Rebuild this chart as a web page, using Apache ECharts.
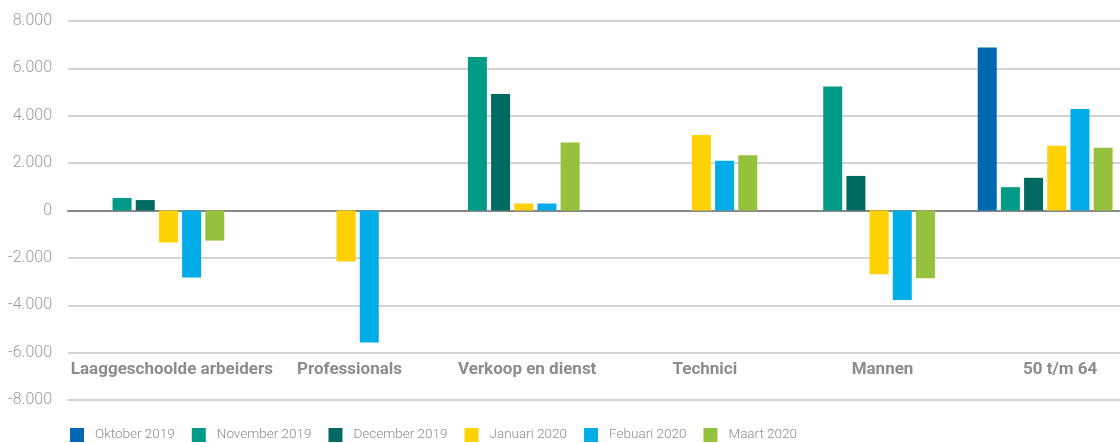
<!DOCTYPE html>
<html>
<head>
<meta charset="utf-8">
<script src="https://cdn.jsdelivr.net/npm/echarts@6/dist/echarts.min.js"></script>
<style>
  html, body { margin: 0; padding: 0; background: #fff; overflow: hidden; }
  #main { width: 1134px; height: 443px; }
</style>
</head>
<body>
<div id="main"></div>
<script>
// categorieen en reeksen
var categories = ['Laaggeschoolde arbeiders', 'Professionals', 'Verkoop en dienst', 'Technici', 'Mannen', '50 t/m 64'];
var seriesNames = ['Oktober 2019', 'November 2019', 'December 2019', 'Januari 2020', 'Febuari 2020', 'Maart 2020'];
var oktober2019 = [null, null, null, null, null, 6880];
var november2019 = [530, null, 6480, null, 5230, 985];
var december2019 = [440, null, 4920, null, 1460, 1380];
var januari2020 = [-1350, -2150, 295, 3190, -2690, 2730];
var febuari2020 = [-2830, -5570, 295, 2100, -3780, 4290];
var maart2020 = [-1270, null, 2870, 2330, -2860, 2645];
var yTicks = [-8000, -6000, -4000, -2000, 0, 2000, 4000, 6000, 8000];

var colors = ['#0067b1', '#009b86', '#006a62', '#ffd100', '#00ade8', '#95c13d'];
var font = 'Roboto, sans-serif';
var allData = [oktober2019, november2019, december2019, januari2020, febuari2020, maart2020];

var myChart = echarts.init(document.getElementById('main'));
var series = [];
for (var i = 0; i < seriesNames.length; i++) {
    series.push({
        name: seriesNames[i],
        type: 'bar',
        xAxisIndex: 0,
        barWidth: 19,
        barGap: '22%',
        data: allData[i]
    });
}

myChart.setOption({
    animation: false,
    color: colors,
    textStyle: { fontFamily: font },
    grid: {
        left: 68,
        top: 21,
        right: 0,
        bottom: 43
    },
    legend: {
        left: 70,
        top: 428,
        padding: 0,
        itemWidth: 14,
        itemHeight: 14,
        itemGap: 17,
        icon: 'rect',
        textStyle: { color: '#8c8c8c', fontSize: 13.5, fontWeight: 300, fontFamily: font, padding: [0, 0, 0, 6] },
        data: seriesNames
    },
    xAxis: [
        {
            type: 'category',
            data: categories,
            axisLine: { onZero: true, lineStyle: { color: '#888', width: 2 } },
            axisTick: { show: false },
            axisLabel: { show: false }
        },
        {
            type: 'category',
            data: categories,
            position: 'bottom',
            offset: -39,
            axisLine: { show: false },
            axisTick: { show: false },
            axisLabel: {
                interval: 0,
                margin: 0,
                color: '#8c8c8c',
                fontWeight: 'bold',
                fontSize: 17,
                fontFamily: font,
                padding: [0, 0, 0, 30]
            }
        }
    ],
    yAxis: {
        type: 'value',
        min: yTicks[0],
        max: yTicks[yTicks.length - 1],
        interval: 2000,
        axisLine: { show: false },
        axisTick: { show: false },
        splitLine: { lineStyle: { color: '#c4c4c4', width: 1.5 } },
        axisLabel: {
            margin: 16,
            color: '#9a9a9a',
            fontSize: 16,
            fontWeight: 300,
            fontFamily: font,
            formatter: function (v) {
                return String(v).replace(/\B(?=(\d{3})+(?!\d))/g, '.');
            }
        }
    },
    series: series
});
</script>
</body>
</html>
